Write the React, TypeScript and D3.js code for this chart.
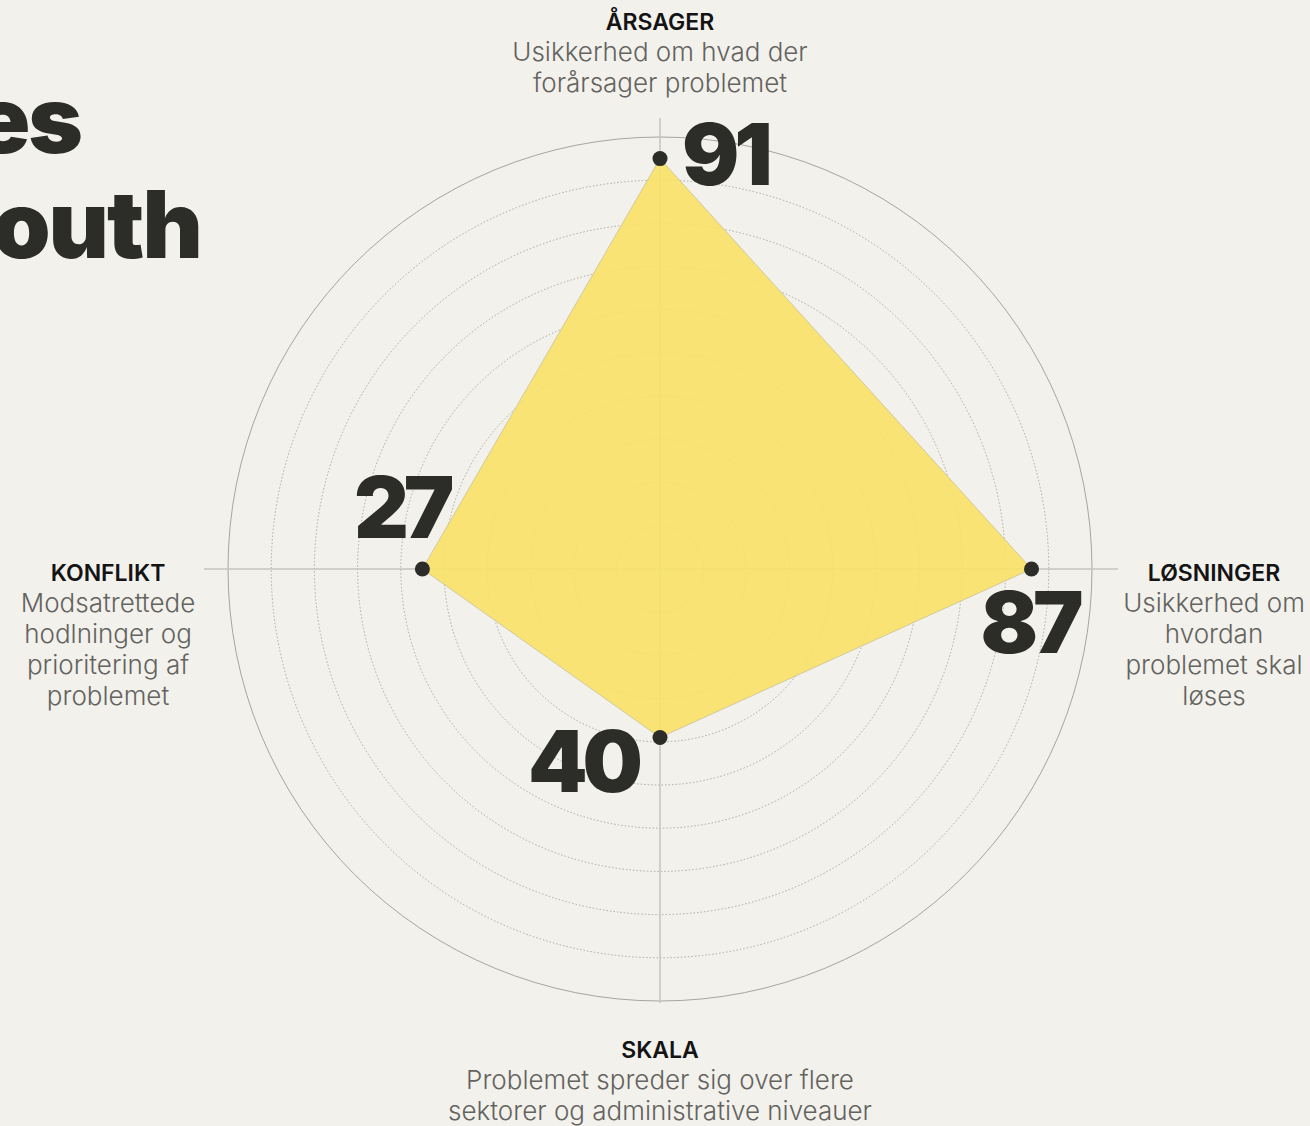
import React from 'react';
import * as d3 from 'd3';

// axes clockwise from the top
const categories = ['ÅRSAGER', 'LØSNINGER', 'SKALA', 'KONFLIKT'];
const descriptions = [
  ['Usikkerhed om hvad der', 'forårsager problemet'],
  ['Usikkerhed om', 'hvordan', 'problemet skal', 'løses'],
  ['Problemet spreder sig over flere', 'sektorer og administrative niveauer'],
  ['Modsatrettede', 'hodlninger og', 'prioritering af', 'problemet'],
];
// score printed next to each point
const scores = [91, 87, 40, 27];
const gridPosition = [95, 86, 39, 55];
const ringTicks = [10, 20, 30, 40, 50, 60, 70, 80, 90, 100];
const titleLines = ['Challenges', 'of youth'];

const W = 1310;
const H = 1126;
const cx = 660;
const cy = 569;
const R = 432;

const bg = '#f3f1ec';
const ink = '#2c2c28';

const App = () => {
  const r = d3.scaleLinear().domain([0, 100]).range([0, R]);
  const angle = d3
    .scaleLinear()
    .domain([0, categories.length])
    .range([0, 2 * Math.PI]);

  const area = d3
    .lineRadial<number>()
    .angle((d, i) => angle(i))
    .radius((d) => r(d))
    .curve(d3.curveLinearClosed);

  const pt = (v: number, i: number) => {
    const a = angle(i);
    return [Math.sin(a) * r(v), -Math.cos(a) * r(v)];
  };

  // label placement relative to each point
  const numLayout = [
    { dx: 22, dy: 26, anchor: 'start' },
    { dx: -2, dy: 84, anchor: 'middle' },
    { dx: -22, dy: 55, anchor: 'end' },
    { dx: 27, dy: -31, anchor: 'end' },
  ];
  const catLayout = [
    { x: 660, y: 30 },
    { x: 1214, y: 581 },
    { x: 660, y: 1058 },
    { x: 108, y: 581 },
  ];
  const axisExtent = [451, 458, 434, 456];

  return (
    <svg
      width={W}
      height={H}
      style={{ position: 'absolute', left: 0, top: 0, display: 'block' }}
    >
      <rect width={W} height={H} fill={bg} />

      {/* cut-off heading on the left */}
      <g
        fontFamily="Inter, 'Liberation Sans', sans-serif"
        fontWeight={900}
        fontSize={93}
        fill={ink}
        textAnchor="end"
        letterSpacing={-2}
      >
        <text x={81} y={153}>{titleLines[0]}</text>
        <text x={201} y={258}>{titleLines[1]}</text>
      </g>

      <g transform={`translate(${cx},${cy})`}>
        {ringTicks.map((t) => (
          <circle
            key={t}
            r={r(t)}
            fill="none"
            stroke={t === 100 ? '#a7a59f' : '#a3a19b'}
            strokeWidth={t === 100 ? 1 : 0.9}
            strokeDasharray={t === 100 ? undefined : '1.5 2'}
          />
        ))}
        {categories.map((c, i) => {
          const a = angle(i);
          const e = axisExtent[i];
          return (
            <line
              key={c}
              x1={0}
              y1={0}
              x2={Math.sin(a) * e}
              y2={-Math.cos(a) * e}
              stroke="#c6c3bb"
              strokeWidth={1.5}
            />
          );
        })}

        <path
          d={area(gridPosition) || ''}
          fill="#f8e26a"
          fillOpacity={0.93}
          stroke="#c9c19a"
          strokeWidth={0.8}
        />

        {gridPosition.map((v, i) => {
          const [x, y] = pt(v, i);
          const l = numLayout[i];
          return (
            <g key={i}>
              <circle cx={x} cy={y} r={7.5} fill={ink} />
              <text
                x={x + l.dx}
                y={y + l.dy}
                textAnchor={l.anchor}
                fontFamily="Inter, 'Liberation Sans', sans-serif"
                fontWeight={900}
                fontSize={85}
                letterSpacing={-5}
                fill={ink}
              >
                {scores[i]}
              </text>
            </g>
          );
        })}
      </g>

      {categories.map((c, i) => (
        <g
          key={c}
          transform={`translate(${catLayout[i].x},${catLayout[i].y})`}
          textAnchor="middle"
          fontFamily="Inter, 'Noto Sans', sans-serif"
        >
          <text fontSize={23} fontWeight={600} fill="#141414">
            {c}
          </text>
          {descriptions[i].map((line, j) => (
            <text
              key={j}
              y={31 * (j + 1)}
              fontSize={26}
              fontWeight={300}
              fill="#63635f"
            >
              {line}
            </text>
          ))}
        </g>
      ))}
    </svg>
  );
};

export default App;
